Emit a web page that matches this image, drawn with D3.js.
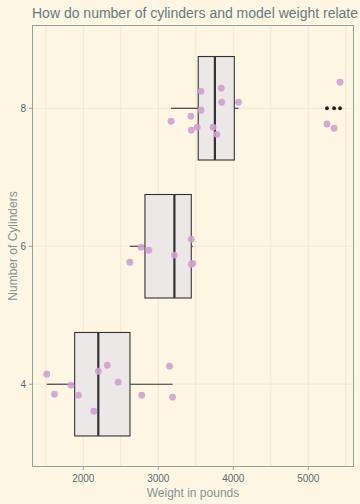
<!DOCTYPE html>
<html><head><meta charset="utf-8">
<script src="https://cdn.jsdelivr.net/npm/d3@7"></script>
<style>
html,body{margin:0;padding:0;background:#fdf6e3;}
svg{display:block;font-family:"Liberation Sans",Arial,sans-serif;}
</style></head>
<body>
<svg id="chart" width="360" height="504"></svg>
<script>
// Data (weights in pounds, cylinder groups)
const cylGroups = [4, 6, 8];
const weights4 = [1513, 1615, 1835, 1935, 2140, 2200, 2320, 2465, 2780, 3150, 3190];
const weights6 = [2620, 2770, 2875, 3215, 3440, 3440, 3460];
const weights8 = [3170, 3435, 3440, 3520, 3570, 3570, 3730, 3780, 3840, 3845, 4070, 5250, 5345, 5424];
// vertically jittered cylinder positions of each point
const jitter4 = [4.145, 3.855, 3.986, 3.841, 3.609, 4.188, 4.275, 4.029, 3.841, 4.261, 3.812];
const jitter6 = [5.768, 5.986, 5.942, 5.870, 6.101, 5.739, 5.752];
const jitter8 = [7.812, 7.884, 7.681, 7.725, 8.246, 7.971, 7.725, 7.623, 8.290, 8.087, 8.087, 7.772, 7.710, 8.377];
const xTicks = [2000, 3000, 4000, 5000];
const xMinor = [1500, 2500, 3500, 4500, 5500];
const yTicks = [4, 6, 8];
const titleText = "How do number of cylinders and model weight relate";
const xTitle = "Weight in pounds";
const yTitle = "Number of Cylinders";

const groups = [
  {cyl: 4, w: weights4, j: jitter4},
  {cyl: 6, w: weights6, j: jitter6},
  {cyl: 8, w: weights8, j: jitter8}
];

const svg = d3.select("#chart");
const L = 32, R = 354, T = 25, B = 467;
const x = d3.scaleLinear().domain([1316, 5610]).range([L, R]);
const y = d3.scaleLinear().domain([2.80, 9.207]).range([B, T]);

svg.append("rect").attr("width", 360).attr("height", 504).attr("fill", "#fdf6e3");

// grid
const grid = svg.append("g").attr("stroke", "#eee8d5").attr("stroke-width", 1);
xTicks.concat(xMinor).forEach(v => {
  grid.append("line").attr("x1", x(v)).attr("x2", x(v)).attr("y1", T).attr("y2", B);
});
yTicks.forEach(v => {
  grid.append("line").attr("x1", L).attr("x2", R).attr("y1", y(v)).attr("y2", y(v));
});

// boxplots
const halfW = 0.75;
groups.forEach(g => {
  const s = g.w.slice().sort(d3.ascending);
  const q1 = d3.quantile(s, 0.25), med = d3.quantile(s, 0.5), q3 = d3.quantile(s, 0.75);
  const iqr = q3 - q1;
  const lo = d3.min(s.filter(v => v >= q1 - 1.5 * iqr));
  const hi = d3.max(s.filter(v => v <= q3 + 1.5 * iqr));
  const outs = s.filter(v => v < lo || v > hi);
  const bg = svg.append("g");
  bg.append("line").attr("x1", x(lo)).attr("x2", x(q1)).attr("y1", y(g.cyl)).attr("y2", y(g.cyl))
    .attr("stroke", "#333").attr("stroke-width", 1.1);
  bg.append("line").attr("x1", x(q3)).attr("x2", x(hi)).attr("y1", y(g.cyl)).attr("y2", y(g.cyl))
    .attr("stroke", "#333").attr("stroke-width", 1.1);
  bg.append("rect").attr("x", x(q1)).attr("y", y(g.cyl + halfW))
    .attr("width", x(q3) - x(q1)).attr("height", y(g.cyl - halfW) - y(g.cyl + halfW))
    .attr("fill", "#ece8e7").attr("stroke", "#333").attr("stroke-width", 1.1);
  bg.append("line").attr("x1", x(med)).attr("x2", x(med)).attr("y1", y(g.cyl + halfW)).attr("y2", y(g.cyl - halfW))
    .attr("stroke", "#333").attr("stroke-width", 2.2);
  outs.forEach(v => {
    bg.append("circle").attr("cx", x(v)).attr("cy", y(g.cyl)).attr("r", 1.9).attr("fill", "#222");
  });
});

// jittered points
groups.forEach(g => {
  svg.append("g").selectAll("circle").data(g.w).join("circle")
    .attr("cx", d => x(d)).attr("cy", (d, i) => y(g.j[i])).attr("r", 3.4)
    .attr("fill", "#d39fd3").attr("fill-opacity", 0.9);
});

// panel border
svg.append("rect").attr("x", L + 0.5).attr("y", T + 0.5).attr("width", R - L - 1).attr("height", B - T - 1)
  .attr("fill", "none").attr("stroke", "#93a1a1").attr("stroke-width", 1);

// axes ticks & labels
const axC = "#586e75";
yTicks.forEach(v => {
  svg.append("line").attr("x1", L - 3).attr("x2", L).attr("y1", y(v)).attr("y2", y(v)).attr("stroke", "#93a1a1");
  svg.append("text").attr("x", L - 6).attr("y", y(v)).attr("dy", "0.35em").attr("text-anchor", "end")
    .attr("font-size", 10).attr("fill", axC).text(v);
});
xTicks.forEach(v => {
  svg.append("line").attr("x1", x(v)).attr("x2", x(v)).attr("y1", B).attr("y2", B + 3).attr("stroke", "#93a1a1");
  svg.append("text").attr("x", x(v)).attr("y", 482).attr("text-anchor", "middle")
    .attr("font-size", 10).attr("fill", axC).text(v);
});

svg.append("text").attr("x", (L + R) / 2).attr("y", 497).attr("text-anchor", "middle")
  .attr("font-size", 12).attr("fill", "#839496").text(xTitle);
svg.append("text").attr("transform", `translate(16.5,${(T + B) / 2}) rotate(-90)`).attr("text-anchor", "middle")
  .attr("font-size", 12).attr("fill", "#839496").text(yTitle);
svg.append("text").attr("x", 32).attr("y", 17.5).attr("font-size", 14)
  .attr("textLength", 326).attr("lengthAdjust", "spacingAndGlyphs")
  .attr("fill", "#657b83").text(titleText);
</script>
</body></html>
